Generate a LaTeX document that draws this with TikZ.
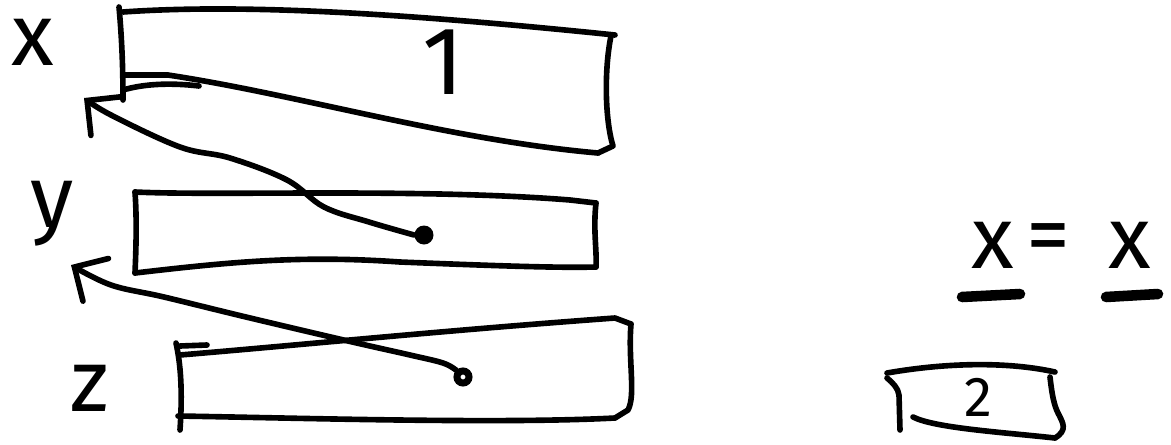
\documentclass[tikz,border=0pt]{standalone}
\usepackage{fontspec}
\setmainfont{Fira Sans}
\usetikzlibrary{arrows.meta}
\begin{document}
\begin{tikzpicture}[x=0.02cm,y=-0.02cm,
  pen/.style={line width=3.2pt,line cap=round,line join=round},
  lbl/.style={font=\fontsize{50}{50}\selectfont,inner sep=0pt},
  num/.style={inner sep=0pt},
  ptr/.style={pen,-{Straight Barb[angle=90:20pt,line cap=round]}},
  uline/.style={line width=6pt,line cap=round}]
\useasboundingbox (0,0) rectangle (1171,444);

% ---- box 1 ----
\draw[pen] (119,7) .. controls (122,40) and (123,70) .. (123,100);
\draw[pen] (123,12) .. controls (250,3) and (420,15) .. (615,35);
\draw[pen] (611,36) .. controls (604,70) and (605,120) .. (613,146) -- (598,153);
\draw[pen] (125,75) -- (168,75) .. controls (300,95) and (450,140) .. (598,153);
\draw[pen] (123,90) .. controls (140,85) and (165,82) .. (199,86);
\node[num,font=\fontsize{55}{55}\selectfont] (one) at (443,62) {1};
\node[lbl] (lx) at (33,42) {x};

% ---- box 2 ----
\draw[pen] (135,192) .. controls (137,220) and (136,250) .. (135,273);
\draw[pen] (135,192) .. controls (220,196) and (420,188) .. (570,200) -- (596,203);
\draw[pen] (596,203) .. controls (593,230) and (597,250) .. (596,267);
\draw[pen] (135,273) .. controls (230,262) and (300,255) .. (400,262) .. controls (500,266) and (560,268) .. (596,267);
\node[lbl] (ly) at (52,214) {y};

% ---- box 3 ----
\draw[pen] (176,343) .. controls (182,370) and (182,400) .. (180,430);
\draw[pen] (180,346) -- (207,345);
\draw[pen] (180,355) .. controls (300,345) and (450,330) .. (615,318) -- (631,324);
\draw[pen] (631,324) .. controls (628,360) and (636,395) .. (628,410) -- (615,418);
\draw[pen] (178,416) .. controls (300,418) and (500,424) .. (615,418);
\node[lbl] (lz) at (90,388) {z};

% ---- dots and arrows ----
\node[circle,fill,inner sep=0pt,minimum size=0.38cm] (d1) at (424,235) {};
\node[circle,draw,line width=4pt,inner sep=0pt,minimum size=0.24cm] (d2) at (463,377) {};
\coordinate (t1) at (84,98);
\coordinate (t2) at (71,265);
\draw[ptr] plot[smooth,tension=0.6] coordinates {(d1.west) (369,222) (324,207) (287,180) (230,158) (180,147) (111,115) (t1)};
\draw[ptr] plot[smooth,tension=0.6] coordinates {(d2.north west) (443,363) (410,355) (348,341) (246,317) (164,297) (111,285) (t2)};

% ---- right side ----
\node[lbl] (x1) at (993,245) {x};
\node[lbl] (eq) at (1048,244) {=};
\node[lbl] (x2) at (1130,245) {x};
\draw[uline] (962,297) -- (1020,294);
\draw[uline] (1106,297) -- (1158,294);

\draw[pen] (887,373) .. controls (950,362) and (1010,362) .. (1055,372);
\draw[pen] (887,378) .. controls (893,383) and (898,388) .. (899,395) -- (900,430);
\draw[pen] (1050,377) .. controls (1052,395) and (1054,405) .. (1058,413) .. controls (1063,423) and (1068,430) .. (1055,438);
\draw[pen] (913,417) .. controls (935,428) and (1000,432) .. (1055,438);
\node[num,font=\fontsize{32}{32}\selectfont] (two) at (978,397) {2};
\end{tikzpicture}
\end{document}
